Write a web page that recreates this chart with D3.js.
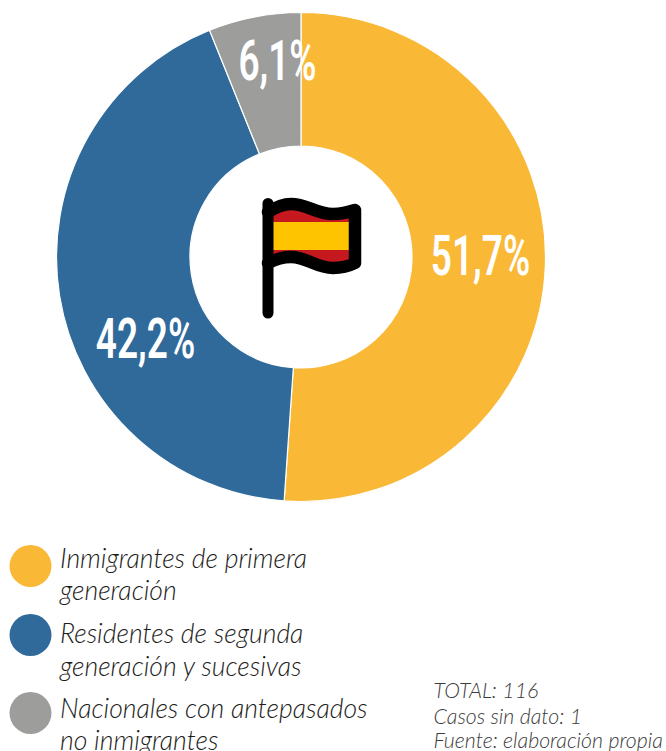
<!DOCTYPE html>
<html><head><meta charset="utf-8">
<script src="https://cdn.jsdelivr.net/npm/d3@7/dist/d3.min.js"></script>
<style>html,body{margin:0;padding:0;background:#fff;overflow:hidden}svg{display:block}</style>
</head><body><svg id="c" width="666" height="751"></svg>
<script>
const categories = ["Inmigrantes de primera generación","Residentes de segunda generación y sucesivas","Nacionales con antepasados no inmigrantes"];
const values = [51.1,42.8,6.1];
const valueLabels = ["51,7%","42,2%","6,1%"];
const colors = ["#fab837","#2f6a9b","#9d9d9c"];
const legendLines = [["Inmigrantes de primera","generación"],["Residentes de segunda","generación y sucesivas"],["Nacionales con antepasados","no inmigrantes"]];
const notes = ["TOTAL: 116","Casos sin dato: 1","Fuente: elaboración propia"];

const svg = d3.select("#c");
const cx=301, cy=257, R=244.5, r=111;
const pie = d3.pie().sort(null).value(d=>d)(values);
const arc = d3.arc().innerRadius(r).outerRadius(R);
const g = svg.append("g").attr("transform",`translate(${cx},${cy})`);
g.selectAll("path").data(pie).join("path").attr("d",arc)
  .attr("fill",(d,i)=>colors[i]).attr("stroke","#fff").attr("stroke-width",1.2);

const labelPos=[[480.5,257],[145.5,340],[277.5,62]];
valueLabels.forEach((t,i)=>{
  svg.append("text").attr("transform",`translate(${labelPos[i][0]},${labelPos[i][1]+17.5}) scale(0.66,1)`)
    .attr("text-anchor","middle").attr("font-family","Roboto").attr("font-weight",600)
    .attr("font-size",56).attr("fill","#fff").text(t);
});

// flag icon
const flag = svg.append("g");
const wave = "M268,212 C276,207 283,204 291,204 C307,204 316,214 333,214 C342,214 349,212 355,210 L355,263 C349,266 342,268 333,268 C316,268 307,257 291,257 C283,257 276,259 268,263";
flag.append("path").attr("d",wave+" Z").attr("fill","#c5191f");
flag.append("rect").attr("x",273).attr("y",222).attr("width",76).attr("height",28).attr("fill","#ffc400");
flag.append("path").attr("d",wave).attr("fill","none").attr("stroke","#000").attr("stroke-width",12.5).attr("stroke-linejoin","round").attr("stroke-linecap","round");
flag.append("line").attr("x1",268).attr("x2",268).attr("y1",203.5).attr("y2",313).attr("stroke","#000").attr("stroke-width",11).attr("stroke-linecap","round");

// legend
const legY=[[566,568,600],[635,643,676],[713,718,750]];
legendLines.forEach((ls,i)=>{
  svg.append("circle").attr("cx",30.5).attr("cy",legY[i][0]).attr("r",21).attr("fill",colors[i]);
  ls.forEach((t,j)=>{
    svg.append("text").attr("x",60).attr("y",legY[i][j+1]).attr("font-family","Lato").attr("font-weight",300)
      .attr("font-style","italic").attr("font-size",26.6).attr("fill","#1d1d1b").text(t);
  });
});
const noteY=[698,724,748];
notes.forEach((t,i)=>{
  svg.append("text").attr("x",433.5).attr("y",noteY[i]).attr("font-family","Lato").attr("font-weight",300)
    .attr("font-style","italic").attr("font-size",21.3).attr("fill","#3c3c3b").text(t);
});
</script></body></html>
